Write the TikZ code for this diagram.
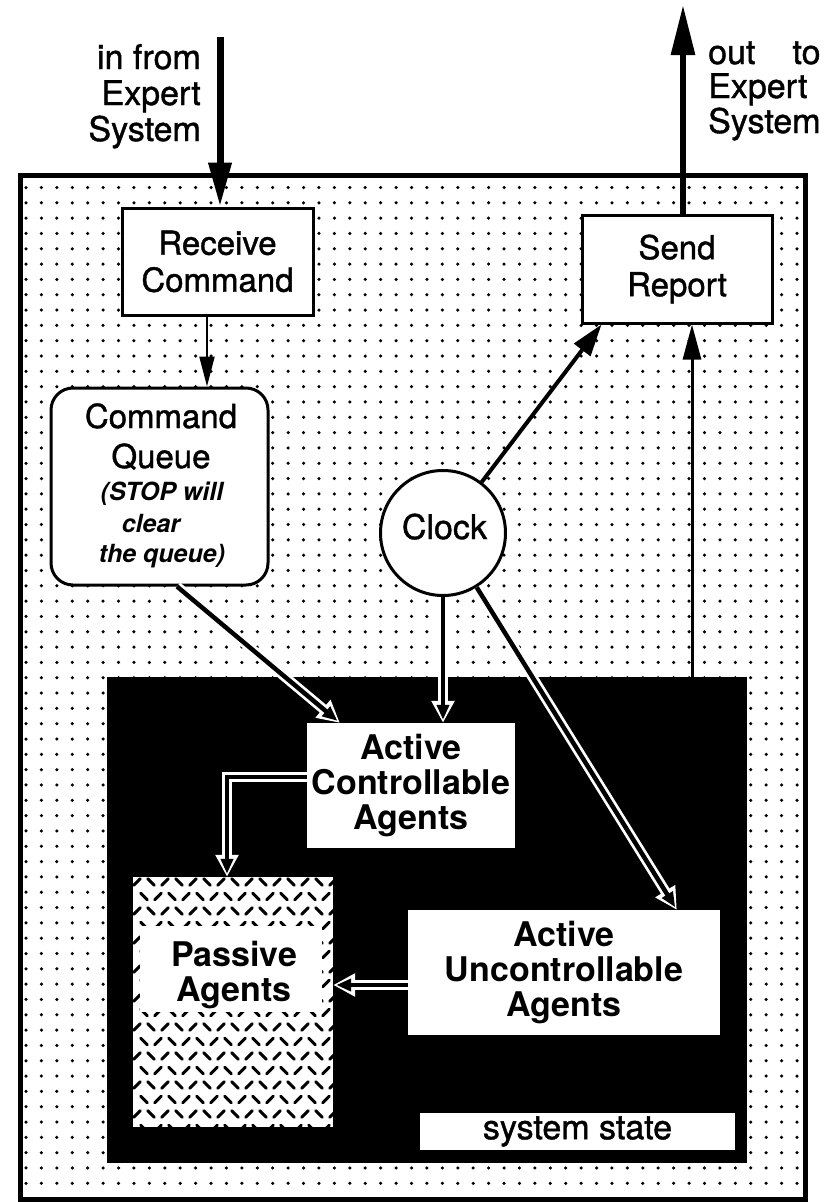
\documentclass[tikz,border=0pt]{standalone}
\usepackage{fontspec}
\setmainfont{TeX Gyre Heros}
\newfontfamily\dgheavy{TeX Gyre Heros}[FakeBold=1.2]
\usetikzlibrary{arrows.meta,calc}
\newlength\dgw
\newcommand\dgreg{\dgheavy\fontsize{33}{37}\selectfont}
\newcommand\dglab{\dgheavy\fontsize{34}{36}\selectfont}
\newcommand\dgit{\fontsize{25}{31}\selectfont\bfseries\itshape}
\newcommand\dgclock{\dgheavy\fontsize{34}{40}\selectfont}
\newcommand\dgbold{\fontsize{34}{35}\selectfont\bfseries}
\newcommand\dgsys{\dgheavy\fontsize{34}{36}\selectfont}
\tikzset{
  box/.style={draw, line width=3pt, fill=white, inner sep=0pt},
  whitebox/.style={fill=white, inner sep=0pt},
  txt/.style={inner sep=0pt, anchor=base},
  hollow/.style={line width=4.5pt, draw=black, shorten >=3pt,
    -{Triangle[length=15pt,width=12pt]},
    preaction={draw=white, line width=10pt, shorten >=0pt,
      -{Triangle[length=22pt,width=22pt]}}},
}
\begin{document}
\begin{tikzpicture}[x=1pt,y=-1pt]
\useasboundingbox (0,0) rectangle (826,1202);
\fill[white] (0,0) rectangle (826,1202);
% dotted background
\foreach \i in {0,...,50}{
  \foreach \j in {0,...,65}{
    \fill ({26+15.42*\i},{187.5+15.32*\j}) circle (1.75pt);
  }
}
\draw[line width=5pt] (20,175.5) rectangle (805.5,1199.5);
% dark system-state area
\node[fill=black, minimum width=640pt, minimum height=486pt, inner sep=0pt] (dark) at (427,920) {};

% top labels
\node[txt, anchor=base east, font=\dglab] (in1) at (201,69) {in from};
\node[txt, anchor=base east, font=\dglab] (in2) at (201,105) {Expert};
\node[txt, anchor=base east, font=\dglab] (in3) at (201,141) {System};
\node[txt, anchor=base west, font=\dglab] (out1) at (708,64) {\settowidth{\dgw}{System}\makebox[\dgw][s]{out\hfill to}};
\node[txt, anchor=base west, font=\dglab] (out2) at (708,98) {Expert};
\node[txt, anchor=base west, font=\dglab] (out3) at (708,133) {System};

% boxes
\node[box, minimum width=191pt, minimum height=107pt, font=\dgreg, align=center] (recv) at (217.5,261.5) {Receive\\Command};
\node[box, minimum width=190pt, minimum height=108pt, font=\dgreg, align=center] (send) at (677,269) {Send\\Report};
\node[box, rounded corners=22pt, minimum width=217pt, minimum height=197pt] (cq) at (159.5,486.5) {};
\node[txt, font=\dgreg] (cq1) at (161,428) {Command};
\node[txt, font=\dgreg] (cq2) at (161,468) {Queue};
\node[txt, font=\dgit] (cq3) at (162,500) {(STOP will};
\node[txt, font=\dgit] (cq4) at (151,532) {clear};
\node[txt, font=\dgit] (cq5) at (162,562) {the queue)};
\node[box, circle, minimum size=125pt] (clock) at (443,533) {};
\node[txt, font=\dgclock] (clockt) at (444.5,539) {Clock};

\node[whitebox, minimum width=208pt, minimum height=125pt, font=\dgbold, align=center] (aca) at (411,785.5) {Active\\Controllable\\Agents};
\node[whitebox, minimum width=312pt, minimum height=125pt, font=\dgbold, align=center] (aua) at (564,972.5) {Active\\Uncontrollable\\Agents};
\node[whitebox, minimum width=200pt, minimum height=250pt] (passive) at (233,1002) {};
\begin{scope}
  \clip (passive.north west) rectangle (passive.south east);
  \foreach \j in {0,...,17}{
    \foreach \i in {0,...,14}{
      \pgfmathsetmacro\xx{137+14*\i+7*mod(\j,2)}
      \pgfmathsetmacro\yy{882+14.5*\j}
      \pgfmathsetmacro\ss{ifthenelse(mod(\i+\j,2)==0,1,-1)}
      \draw[line width=3pt, line cap=round] ({\xx-3.3},{\yy+3.3*\ss}) -- ({\xx+3.3},{\yy-3.3*\ss});
    }
  }
\end{scope}
\node[whitebox, minimum width=182pt, minimum height=86pt] (plabel) at (231,968.5) {};
\node[inner sep=0pt, font=\dgbold, align=center] (ptext) at (234,975) {Passive\\Agents};
\node[whitebox, minimum width=315pt, minimum height=37pt, font=\dgsys] (sys) at (577.5,1131.5) {system state};

% connectors
\coordinate (inTop) at (220,37);
\coordinate (outTop) at (683,5);
\draw[line width=7pt, -{Triangle[length=44pt,width=22pt]}] (inTop) -- (inTop |- recv.north);
\draw[line width=6pt, -{Triangle[length=50pt,width=23pt]}] (send.north -| outTop) -- (outTop);
\draw[line width=2.2pt, -{Triangle[length=30pt,width=15pt]}] ($(recv.south)+(-10.5,0)$) -- ($(cq.north)+(47.5,0)$);
\draw[line width=4pt, -{Triangle[length=32pt,width=20pt]}] (clock) -- ($(send.south west)+(21,0)$);
\coordinate (sr) at ($(send.south)+(15,0)$);
\draw[line width=3pt, -{Triangle[length=35pt,width=18pt]}] (sr |- dark.north) -- (sr);
\draw[hollow] ($(cq.south)+(17.5,0)$) -- ($(aca.north west)+(33,0)$);
\draw[hollow] (clock.south) -- (clock.south |- aca.north);
\draw[hollow] (clock) -- ($(aua.north west)+(269,0)$);
\draw[hollow] ($(aca.west)+(0,-8.5)$) -| ($(passive.north)+(-6,0)$);
\draw[hollow] ($(aua.west)+(0,12.5)$) -- ($(passive.east)+(0,-17)$);
\end{tikzpicture}
\end{document}
